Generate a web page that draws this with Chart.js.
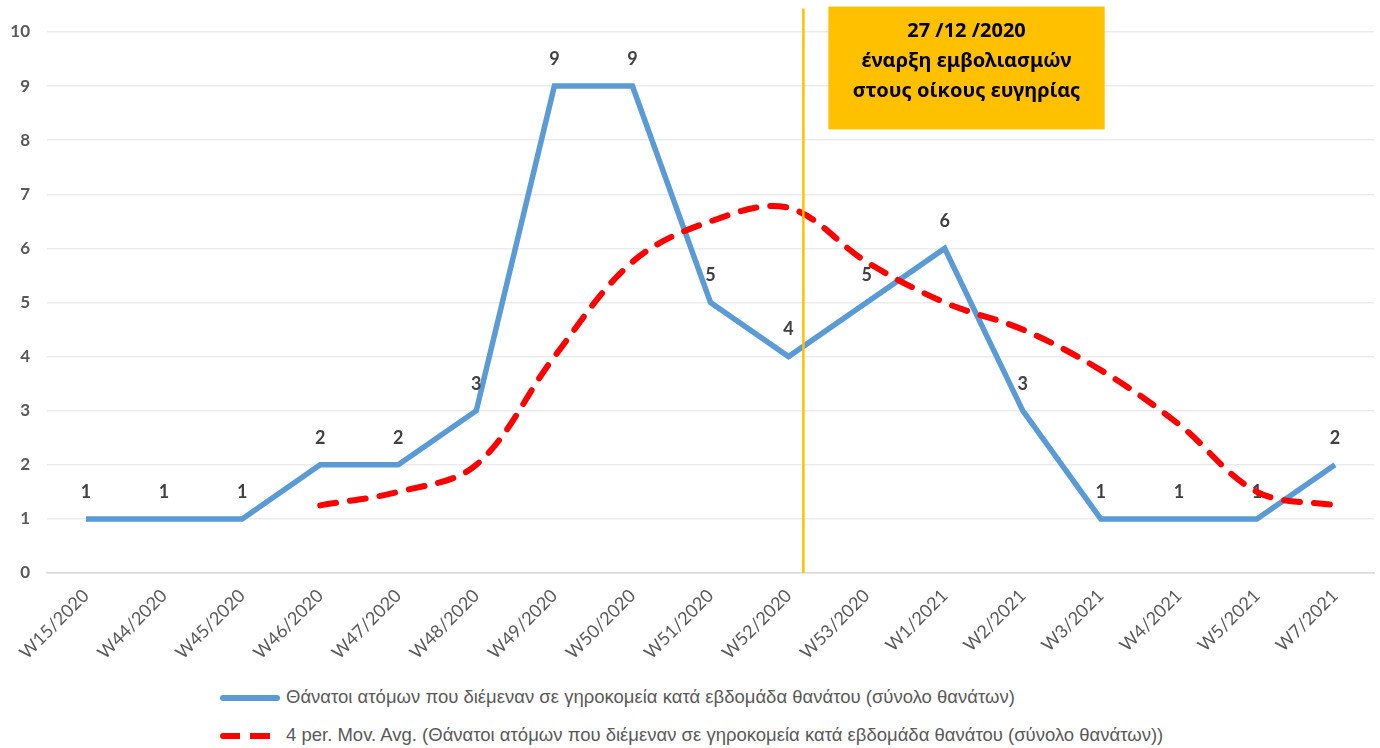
<!DOCTYPE html>
<html>
<head>
<meta charset="utf-8">
<script src="https://cdn.jsdelivr.net/npm/chart.js@4.4.1/dist/chart.umd.min.js"></script>
<style>
  html, body { margin: 0; padding: 0; background: #fff; }
  #wrap { position: relative; width: 1380px; height: 748px; }
  #box { position: absolute; left: 0; top: 0; width: 1380px; height: 670px; }
  .leg { position: absolute; left: 220px; font-family: "Liberation Sans Narrow", "Liberation Sans", sans-serif; font-size: 18.5px; color: #595959; white-space: nowrap; }
  .leg .smp { display: inline-block; width: 60px; height: 6px; vertical-align: middle; margin-right: 6px; }
  .leg .blue { background: #5B9BD5; border-radius: 3px; }
  .leg .red { background: linear-gradient(90deg, #FF0000 0 20px, transparent 20px 30px, #FF0000 30px 50px, transparent 50px); border-radius: 3px; }
</style>
</head>
<body>
<div id="wrap">
  <div id="box"><canvas id="chart"></canvas></div>
  <div class="leg" style="top:686px"><span class="smp blue"></span>Θάνατοι ατόμων που διέμεναν σε γηροκομεία κατά εβδομάδα θανάτου (σύνολο θανάτων)</div>
  <div class="leg" style="top:724px"><span class="smp red"></span>4 per. Mov. Avg. (Θάνατοι ατόμων που διέμεναν σε γηροκομεία κατά εβδομάδα θανάτου (σύνολο θανάτων))</div>
</div>
<script>
// weeks of death
const weeks = ['W15/2020', 'W44/2020', 'W45/2020', 'W46/2020', 'W47/2020', 'W48/2020', 'W49/2020', 'W50/2020', 'W51/2020',
  'W52/2020', 'W53/2020', 'W1/2021', 'W2/2021', 'W3/2021', 'W4/2021', 'W5/2021', 'W7/2021'];
const deaths = [1, 1, 1, 2, 2, 3, 9, 9, 5, 4, 5, 6, 3, 1, 1, 1, 2];
const movAvg = [null, null, null, 1.25, 1.5, 2, 4, 5.75, 6.5, 6.75, 5.75, 5, 4.5, 3.75, 2.75, 1.5, 1.25];
const yTicks = [0, 1, 2, 3, 4, 5, 6, 7, 8, 9, 10];

// vaccination start note (27/12/2020), in category / value units
const vaccLineAt = 9.19;
const noteX = [9.51, 13.05];
const noteY = [8.2, 10.47];
const noteLines = ['27 /12 /2020', 'έναρξη εμβολιασμών', 'στους οίκους ευγηρίας'];

const valueLabels = {
  id: 'valueLabels',
  afterDatasetDraw(chart, args) {
    if (args.index !== 0) return;
    const ctx = chart.ctx;
    ctx.save();
    ctx.font = 'bold 18px Lato, "Noto Sans", sans-serif';
    ctx.fillStyle = '#404040';
    ctx.textAlign = 'center';
    ctx.textBaseline = 'middle';
    args.meta.data.forEach(function(pt, i) {
      ctx.fillText(String(deaths[i]), pt.x, pt.y - 27);
    });
    ctx.restore();
  }
};

const vaccNote = {
  id: 'vaccNote',
  afterDatasetsDraw(chart) {
    const ctx = chart.ctx;
    const x = chart.scales.x, y = chart.scales.y;
    ctx.save();
    // vertical line
    const lx = x.getPixelForValue(vaccLineAt);
    ctx.strokeStyle = '#FFC000';
    ctx.lineWidth = 2.5;
    ctx.beginPath();
    ctx.moveTo(lx, y.getPixelForValue(noteY[1]) + 2);
    ctx.lineTo(lx, y.getPixelForValue(0));
    ctx.stroke();
    // box
    const x0 = x.getPixelForValue(noteX[0]), x1 = x.getPixelForValue(noteX[1]);
    const y0 = y.getPixelForValue(noteY[1]), y1 = y.getPixelForValue(noteY[0]);
    ctx.fillStyle = '#FFC000';
    ctx.fillRect(x0, y0, x1 - x0, y1 - y0);
    ctx.fillStyle = '#000';
    ctx.font = 'bold 20px "Noto Sans", sans-serif';
    ctx.textAlign = 'center';
    ctx.textBaseline = 'middle';
    const cx = (x0 + x1) / 2;
    noteLines.forEach(function(t, i) {
      ctx.fillText(t, cx, y0 + 25 + i * 30);
    });
    ctx.restore();
  }
};

new Chart(document.getElementById('chart'), {
  type: 'line',
  data: {
    labels: weeks,
    datasets: [{
      label: 'Θάνατοι ατόμων που διέμεναν σε γηροκομεία κατά εβδομάδα θανάτου (σύνολο θανάτων)',
      data: deaths,
      borderColor: '#5B9BD5',
      borderWidth: 5.5,
      pointRadius: 0,
      tension: 0,
      order: 1
    }, {
      label: '4 per. Mov. Avg. (Θάνατοι ατόμων που διέμεναν σε γηροκομεία κατά εβδομάδα θανάτου (σύνολο θανάτων))',
      data: movAvg,
      borderColor: '#FF0000',
      borderWidth: 6,
      borderDash: [16, 14],
      borderCapStyle: 'round',
      pointRadius: 0,
      tension: 0.35,
      order: 0
    }]
  },
  options: {
    responsive: true,
    maintainAspectRatio: false,
    animation: false,
    layout: { padding: { top: 32, right: 6, left: 0, bottom: 0 } },
    plugins: {
      legend: { display: false },
      tooltip: { enabled: false }
    },
    scales: {
      x: {
        offset: true,
        grid: { display: false, drawTicks: false },
        border: { color: '#D9D9D9', width: 1.5 },
        ticks: {
          minRotation: 45, maxRotation: 45, autoSkip: false, padding: 12,
          color: '#595959',
          font: { family: 'Lato, "Noto Sans", sans-serif', size: 18 }
        },
        afterFit: function(s) { s.height = 97; }
      },
      y: {
        min: 0, max: 10,
        afterBuildTicks: function(s) { s.ticks = yTicks.map(function(v) { return { value: v }; }); },
        grid: { color: '#EBEBEB', lineWidth: 1.5, drawTicks: false },
        border: { display: false },
        ticks: {
          padding: 17,
          color: '#595959',
          font: { family: 'Lato, "Noto Sans", sans-serif', size: 17, weight: 'bold' }
        },
        afterFit: function(s) { s.width = 47; }
      }
    }
  },
  plugins: [valueLabels, vaccNote]
});
</script>
</body>
</html>
